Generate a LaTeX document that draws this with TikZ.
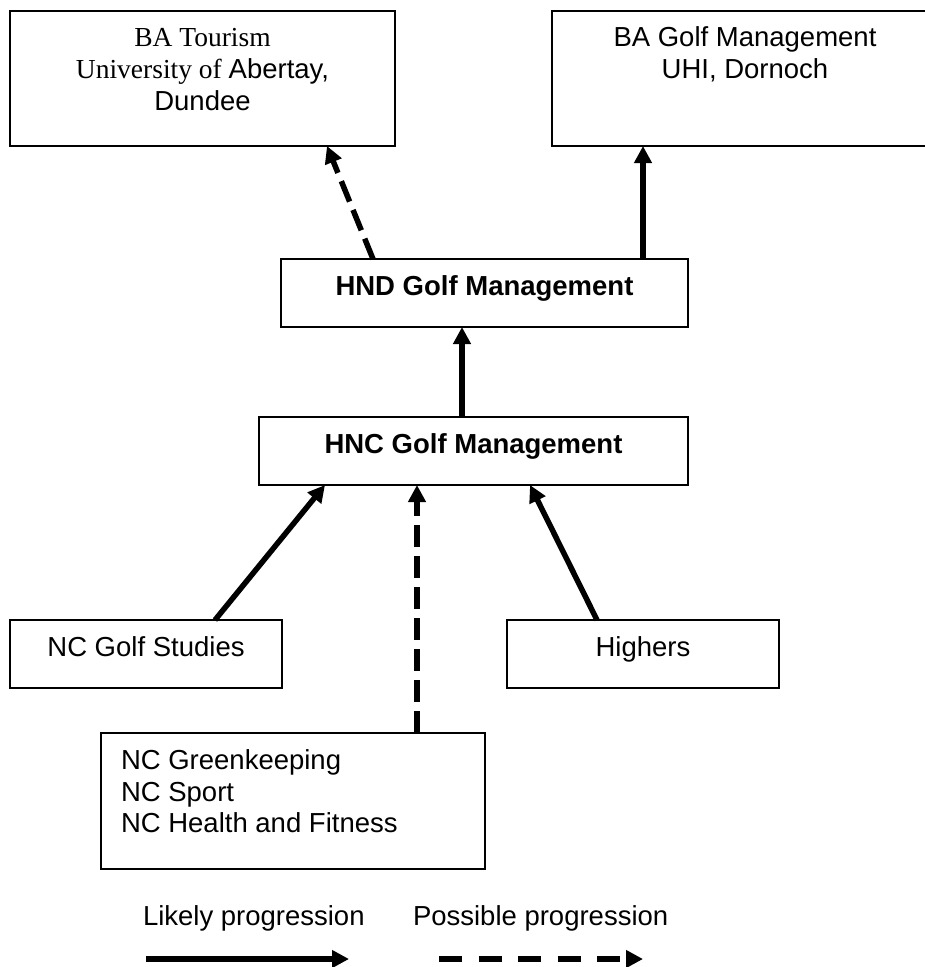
\documentclass[tikz,border=0pt]{standalone}
\usepackage{fontspec}
\setmainfont{Liberation Sans}
\newfontfamily\tnrfont{Liberation Serif}
\usetikzlibrary{arrows.meta,calc}
\tikzset{
  box/.style={draw, line width=1.5pt, inner sep=0pt, outer sep=0pt, anchor=north west},
  txt/.style={inner sep=0pt, outer sep=0pt, anchor=base, font=\fontsize{27.5}{32}\selectfont},
  txtl/.style={txt, anchor=base west},
  likely/.style={line width=5.5pt, -{Triangle[length=17pt,width=17pt]}},
  possible/.style={likely, dash pattern=on 22pt off 9pt},
}
\begin{document}
\begin{tikzpicture}[x=1pt,y=-1pt]
\clip (0,0) rectangle (925,967);
% boxes
\node[box, minimum width=385pt, minimum height=135pt] (bat) at (10,11) {};
\node[box, minimum width=386pt, minimum height=135pt] (bag) at (552,11) {};
\node[box, minimum width=407pt, minimum height=68pt] (hnd) at (281,259) {};
\node[box, minimum width=429pt, minimum height=68pt] (hnc) at (259,417) {};
\node[box, minimum width=272pt, minimum height=68pt] (ngs) at (10,620) {};
\node[box, minimum width=272pt, minimum height=68pt] (hig) at (507,620) {};
\node[box, minimum width=384pt, minimum height=136pt] (ngk) at (101,733) {};
% texts
\node[txt] (bat1) at (202.5,46) {\tnrfont BA Tourism};
\node[txt] (bat2) at (202.5,78) {{\tnrfont University of }Abertay,};
\node[txt] (bat3) at (202.5,110) {Dundee};
\node[txt] (bag1) at (745,46) {BA Golf Management};
\node[txt] (bag2) at (745,78) {UHI, Dornoch};
\node[txt] (hndt) at (484.5,295) {\bfseries HND Golf Management};
\node[txt] (hnct) at (473.5,453) {\bfseries HNC Golf Management};
\node[txt] (ngst) at (146,656) {NC Golf Studies};
\node[txt] (higt) at (643,656) {Highers};
\node[txtl] (ngk1) at (121,769) {NC Greenkeeping};
\node[txtl] (ngk2) at (121,801) {NC Sport};
\node[txtl] (ngk3) at (121,832) {NC Health and Fitness};
\node[txtl] (leg1) at (143,925) {Likely progression};
\node[txtl] (leg2) at (413,925) {Possible progression};
% connectors
\draw[possible] ($(hnd.north west)+(92,0)$) -- ($(bat.south west)+(317,0)$);
\draw[likely] ($(hnd.north west)+(362,0)$) -- ($(bag.south west)+(91,0)$);
\draw[likely] ($(hnc.north west)+(203,0)$) -- ($(hnd.south west)+(181,0)$);
\draw[likely] ($(ngs.north west)+(205,0)$) -- ($(hnc.south west)+(66,0)$);
\draw[possible] ($(ngk.north west)+(316,0)$) -- ($(hnc.south west)+(158,0)$);
\draw[likely] ($(hig.north west)+(90,0)$) -- ($(hnc.south west)+(271,0)$);
% legend
\coordinate (l1a) at (146,959);
\coordinate (l1b) at (349,959);
\coordinate (l2a) at (439,959);
\coordinate (l2b) at (643,959);
\draw[likely] (l1a) -- (l1b);
\draw[likely, dash pattern=on 23pt off 16.5pt] (l2a) -- (l2b);
\end{tikzpicture}
\end{document}
